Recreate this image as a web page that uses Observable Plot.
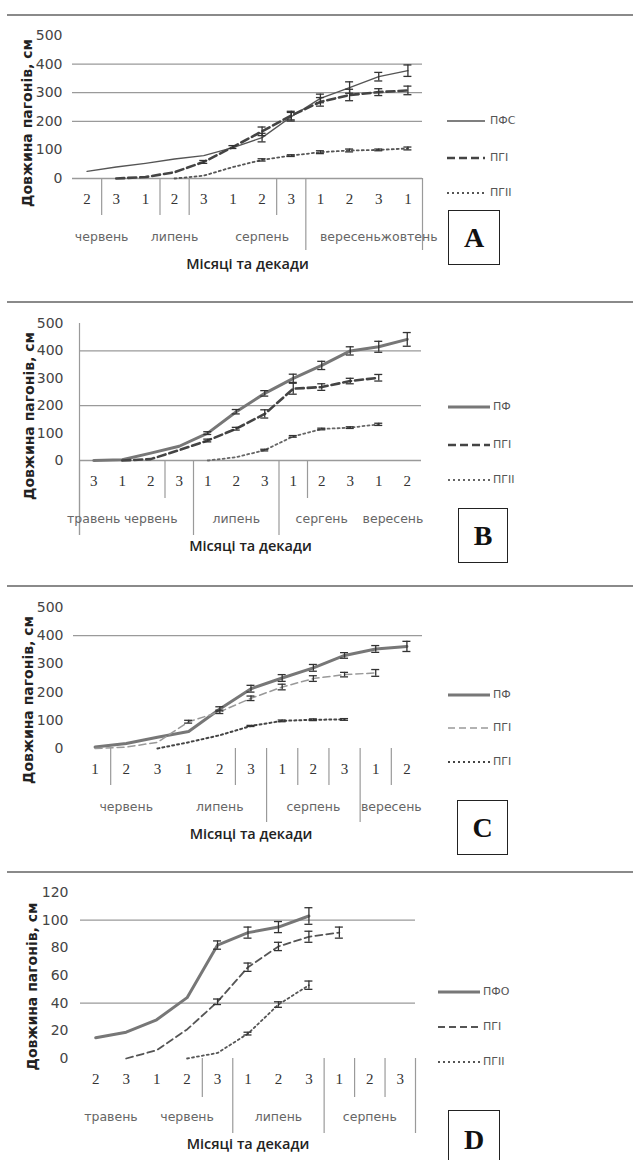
<!DOCTYPE html>
<html><head><meta charset="utf-8">
<script src="https://cdn.jsdelivr.net/npm/d3@7"></script>
<script src="https://cdn.jsdelivr.net/npm/@observablehq/plot@0.6"></script>
<style>
body{margin:0;background:#fff;width:633px;height:1160px;position:relative;overflow:hidden;font-family:"DejaVu Sans",sans-serif}
.sep{position:absolute;left:7px;width:626px;height:0;border-top:2px solid #8a8a8a}
.panel{position:absolute;left:0}
.lg{position:absolute;font:11px "DejaVu Sans",sans-serif;color:#555;white-space:nowrap}
.box{position:absolute;box-sizing:border-box;border:1.5px solid #222;font:bold 28px "Liberation Serif",serif;color:#111;display:flex;align-items:center;justify-content:center}
</style></head><body>
<script>
// ---------- data ----------
const yTitle = "Довжина пагонів, см";
const xTitle = "Місяці та декади";

// Panel A
const decadesA = ["2","3","1","2","3","1","2","3","1","2","3","1"];
const monthsA = ["червень","липень","серпень","вересеньжовтень"];
const monthCenterA = [0.5, 3, 6, 10];
const namesA = ["ПФС","ПГІ","ПГІІ"];
const pfA   = [25, 40, 53, 68, 80, 108, 143, 216, 280, 318, 356, 377];
const pfErrA= [0, 0, 0, 0, 0, 0, 15, 15, 15, 20, 15, 20];
const pg1A  = [null, 0, 5, 22, 58, 110, 165, 220, 268, 292, 302, 308];
const pg1ErrA=[0, 0, 0, 0, 5, 5, 15, 15, 15, 20, 12, 15];
const pg2A  = [null, null, null, 0, 10, 40, 65, 80, 92, 98, 100, 105];
const pg2ErrA=[0, 0, 0, 0, 0, 0, 4, 3, 5, 5, 3, 5];
const gridA = [0, 200, 300, 400];
const ticksA = [0, 100, 200, 300, 400, 500];
const shortBoundsA = [0.5, 2.5, 3.5, 6.5];
const longBoundsA = [7.5, 11.5];

// Panel B
const decadesB = ["3","1","2","3","1","2","3","1","2","3","1","2"];
const monthsB = ["травень","червень","липень","сергень","вересень"];
const monthCenterB = [0, 2, 5, 8, 10.5];
const namesB = ["ПФ","ПГІ","ПГІІ"];
const pfB   = [0, 3, 27, 52, 100, 178, 245, 300, 347, 400, 415, 442];
const pfErrB= [0, 0, 0, 0, 5, 8, 10, 15, 15, 15, 20, 25];
const pg1B  = [null, 0, 5, 38, 73, 116, 170, 262, 268, 290, 302, null];
const pg1ErrB=[0, 0, 0, 0, 5, 5, 15, 20, 12, 10, 12, 0];
const pg2B  = [null, null, null, null, 0, 12, 38, 88, 115, 120, 132, null];
const pg2ErrB=[0, 0, 0, 0, 0, 0, 3, 3, 3, 3, 4, 0];
const gridB = [0, 200, 400];
const ticksB = [0, 100, 200, 300, 400, 500];
const shortBoundsB = [2.5, 7.5];
const longBoundsB = [-0.5, 3.5, 6.5];

// Panel C
const decadesC = ["1","2","3","1","2","3","1","2","3","1","2"];
const monthsC = ["червень","липень","серпень","вересень"];
const monthCenterC = [1, 4, 7, 9.5];
const namesC = ["ПФ","ПГІ","ПГІ"];
const pfC   = [5, 18, 40, 60, 140, 212, 250, 286, 330, 353, 362];
const pfErrC= [0, 0, 0, 0, 8, 12, 12, 12, 10, 12, 18];
const pg1C  = [0, 5, 22, 95, 130, 178, 218, 248, 262, 268, null];
const pg1ErrC=[0, 0, 0, 5, 6, 8, 10, 10, 8, 12, 0];
const pg2C  = [null, null, 0, 22, 47, 80, 98, 102, 103, null, null];
const pg2ErrC=[0, 0, 0, 0, 0, 2, 3, 3, 3, 0, 0];
const gridC = [400];
const ticksC = [0, 100, 200, 300, 400, 500];
const shortBoundsC = [0.5, 4.5, 6.5, 7.5, 9.5];
const longBoundsC = [5.5, 8.5];

// Panel D
const decadesD = ["2","3","1","2","3","1","2","3","1","2","3"];
const monthsD = ["травень","червень","липень","серпень"];
const monthCenterD = [0.5, 3, 6, 9];
const namesD = ["ПФО","ПГІ","ПГІІ"];
const pfD   = [15, 19, 28, 44, 82, 91, 95, 103, null, null, null];
const pfErrD= [0, 0, 0, 0, 3, 4, 4, 6, 0, 0, 0];
const pg1D  = [null, 0, 6, 21, 41, 66, 81, 88, 91, null, null];
const pg1ErrD=[0, 0, 0, 0, 2, 3, 3, 4, 4, 0, 0];
const pg2D  = [null, null, null, 0, 4, 18, 39, 53, null, null, null];
const pg2ErrD=[0, 0, 0, 0, 0, 1, 2, 3, 0, 0, 0];
const gridD = [40, 100];
const ticksD = [0, 20, 40, 60, 80, 100, 120];
const shortBoundsD = [3.5, 8.5, 9.5];
const longBoundsD = [4.5, 7.5, 10.5];

// ---------- styles / layout ----------
const styleA = [
  {stroke:"#555", strokeWidth:1.4},
  {stroke:"#444", strokeWidth:2.6, strokeDasharray:"8,4"},
  {stroke:"#555", strokeWidth:1.8, strokeDasharray:"2,3"}];
const styleB = [
  {stroke:"#777", strokeWidth:3},
  {stroke:"#444", strokeWidth:2.6, strokeDasharray:"8,4"},
  {stroke:"#666", strokeWidth:1.8, strokeDasharray:"2,3"}];
const styleC = [
  {stroke:"#777", strokeWidth:3},
  {stroke:"#999", strokeWidth:1.5, strokeDasharray:"7,4"},
  {stroke:"#444", strokeWidth:2, strokeDasharray:"2,3"}];
const styleD = [
  {stroke:"#777", strokeWidth:3},
  {stroke:"#555", strokeWidth:1.8, strokeDasharray:"7,4"},
  {stroke:"#555", strokeWidth:1.8, strokeDasharray:"2,3"}];

const panels = [
  {top:15, H:285, mt:20, mb:122, ml:72, mr:211, ymax:500, ticks:ticksA, grid:gridA, gridInset:0,
   decades:decadesA, months:monthsA, monthCenter:monthCenterA, names:namesA,
   vals:[pfA,pg1A,pg2A], errs:[pfErrA,pg1ErrA,pg2ErrA], styles:styleA,
   shortB:shortBoundsA, longB:longBoundsA, shortLen:37, longLen:72, tickPad:10, ytdx:-45, ytdy:16,
   lg:{x1:447,x2:485,tx:490,ys:[121,158,193]}, box:{l:448,t:210,w:52,h:55,txt:"A"}},
  {top:302, H:284, mt:21, mb:126, ml:79, mr:212, ymax:500, ticks:ticksB, grid:gridB, gridInset:0,
   decades:decadesB, months:monthsB, monthCenter:monthCenterB, names:namesB,
   vals:[pfB,pg1B,pg2B], errs:[pfErrB,pg1ErrB,pg2ErrB], styles:styleB,
   shortB:shortBoundsB, longB:longBoundsB, shortLen:38, longLen:75, tickPad:16, ytdx:-50, ytdy:24,
   lg:{x1:448,x2:490,tx:493,ys:[407,445,480]}, box:{l:458,t:508,w:50,h:55,txt:"B"}},
  {top:586, H:286, mt:21, mb:124, ml:79, mr:211, ymax:500, ticks:ticksC, grid:gridC, gridInset:-6,
   decades:decadesC, months:monthsC, monthCenter:monthCenterC, names:namesC,
   vals:[pfC,pg1C,pg2C], errs:[pfErrC,pg1ErrC,pg2ErrC], styles:styleC,
   shortB:shortBoundsC, longB:longBoundsC, shortLen:37, longLen:74, tickPad:16, ytdx:-51, ytdy:22,
   lg:{x1:448,x2:490,tx:493,ys:[695,728,762]}, box:{l:457,t:800,w:51,h:55,txt:"C"}},
  {top:872, H:288, mt:20, mb:102, ml:80, mr:218, ymax:120, ticks:ticksD, grid:gridD, gridInset:0,
   decades:decadesD, months:monthsD, monthCenter:monthCenterD, names:namesD,
   vals:[pfD,pg1D,pg2D], errs:[pfErrD,pg1ErrD,pg2ErrD], styles:styleD,
   shortB:shortBoundsD, longB:longBoundsD, shortLen:39, longLen:75, tickPad:12, ytdx:-48, ytdy:11,
   lg:{x1:438,x2:480,tx:483,ys:[992,1027,1062]}, box:{l:448,t:1110,w:52,h:60,txt:"D"}}
];

for (const p of panels) {
  const sepDiv = document.createElement("div");
  sepDiv.className = "sep"; sepDiv.style.top = (p.top - 1) + "px";
  document.body.appendChild(sepDiv);

  const n = p.decades.length;
  const plotH = p.H - p.mt - p.mb;
  const marks = [
    Plot.ruleY(p.grid, {stroke:"#9a9a9a", strokeWidth:1.3, insetLeft:p.gridInset}),
    Plot.ruleX(p.shortB, {stroke:"#9a9a9a", strokeWidth:1.2, insetTop:plotH, insetBottom:-p.shortLen}),
    Plot.ruleX(p.longB, {stroke:"#9a9a9a", strokeWidth:1.2, insetTop:plotH, insetBottom:-p.longLen}),
  ];
  if (p.longB.includes(-0.5)) {
    marks.push(Plot.ruleX([-0.5], {stroke:"#9a9a9a", strokeWidth:1.2, insetBottom:-p.longLen}));
  }
  p.vals.forEach((arr, si) => {
    const rows = [];
    arr.forEach((v, i) => { if (v != null) rows.push({i, v, e: p.errs[si][i]}); });
    marks.push(Plot.line(rows, {x:"i", y:"v", ...p.styles[si]}));
    const er = rows.filter(d => d.e > 0);
    marks.push(Plot.ruleX(er, {x:"i", y1:d => d.v - d.e, y2:d => d.v + d.e, stroke:"#333", strokeWidth:1.3}));
    marks.push(Plot.ruleY(er, {y:d => d.v + d.e, x1:"i", x2:"i", insetLeft:-4, insetRight:-4, stroke:"#333", strokeWidth:1.3}));
    marks.push(Plot.ruleY(er, {y:d => d.v - d.e, x1:"i", x2:"i", insetLeft:-4, insetRight:-4, stroke:"#333", strokeWidth:1.3}));
  });
  marks.push(
    Plot.text(p.decades, {x:(d, i) => i, text:d => d, frameAnchor:"bottom", dy:25,
      fontFamily:"Liberation Serif", fontSize:15, fill:"#333"}),
    Plot.text(p.months, {x:(d, i) => p.monthCenter[i], text:d => d, frameAnchor:"bottom", dy:62,
      fontFamily:"DejaVu Sans", fontSize:12.5, fill:"#666"}),
    Plot.text([xTitle], {frameAnchor:"bottom", dy:90, fontFamily:"Open Sans", fontSize:14.5, fontWeight:600, fill:"#222"}),
    Plot.text([yTitle], {frameAnchor:"left", textAnchor:"middle", rotate:-90, dx:p.ytdx, dy:p.ytdy,
      fontFamily:"DejaVu Sans", fontSize:14, fontWeight:"bold", fill:"#222"})
  );

  const svg = Plot.plot({
    width:633, height:p.H,
    marginTop:p.mt, marginBottom:p.mb, marginLeft:p.ml, marginRight:p.mr,
    x:{domain:[-0.5, n - 0.5], axis:null},
    y:{domain:[0, p.ymax], ticks:p.ticks, tickSize:0, tickPadding:p.tickPad, label:null},
    style:{fontFamily:"DejaVu Sans", fontSize:"14px", color:"#444", background:"transparent", overflow:"visible"},
    marks
  });
  const wrap = document.createElement("div");
  wrap.className = "panel"; wrap.style.top = p.top + "px";
  wrap.appendChild(svg);
  document.body.appendChild(wrap);

  // legend
  p.names.forEach((name, si) => {
    const s = p.styles[si];
    const y = p.lg.ys[si];
    const ns = "http://www.w3.org/2000/svg";
    const sv = document.createElementNS(ns, "svg");
    sv.setAttribute("width", p.lg.x2 - p.lg.x1); sv.setAttribute("height", 8);
    sv.style.position = "absolute"; sv.style.left = p.lg.x1 + "px"; sv.style.top = (y - 4) + "px";
    const ln = document.createElementNS(ns, "line");
    ln.setAttribute("x1", 0); ln.setAttribute("x2", p.lg.x2 - p.lg.x1);
    ln.setAttribute("y1", 4); ln.setAttribute("y2", 4);
    ln.setAttribute("stroke", s.stroke); ln.setAttribute("stroke-width", s.strokeWidth);
    if (s.strokeDasharray) ln.setAttribute("stroke-dasharray", s.strokeDasharray);
    sv.appendChild(ln);
    document.body.appendChild(sv);
    const t = document.createElement("div");
    t.className = "lg"; t.textContent = name;
    t.style.left = p.lg.tx + "px"; t.style.top = (y - 7) + "px";
    document.body.appendChild(t);
  });
  const b = document.createElement("div");
  b.className = "box"; b.textContent = p.box.txt;
  Object.assign(b.style, {left:p.box.l + "px", top:p.box.t + "px", width:p.box.w + "px", height:p.box.h + "px"});
  document.body.appendChild(b);
}
</script>
</body></html>
